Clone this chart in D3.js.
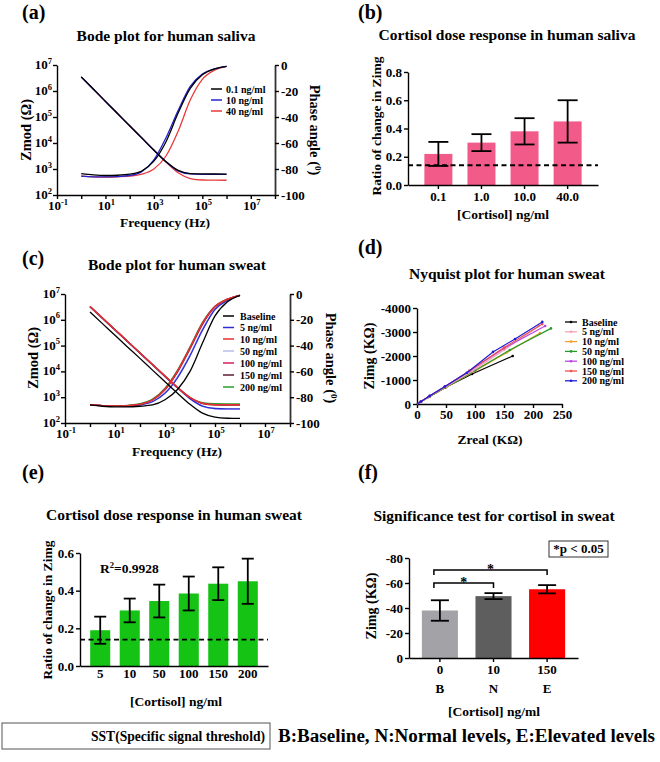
<!DOCTYPE html>
<html><head><meta charset="utf-8">
<script src="https://cdn.jsdelivr.net/npm/d3@7"></script>
<style>body{margin:0;background:#fff}svg{display:block}</style>
</head><body><svg id="c" width="660" height="762"></svg>
<script>
// ---------------- DATA ----------------
const freq = [1, 3.162, 10, 31.62, 100, 316.2, 1000, 3162, 10000, 31620, 100000, 316200, 1000000];
const bodeExpTicks = [-1, 0, 1, 2, 3, 4, 5, 6, 7, 8];
const bodeExpLabels = [-1, 1, 3, 5, 7];
const zmodExpTicks = [2, 3, 4, 5, 6, 7];
const phaseTicks = [0, -20, -40, -60, -80, -100];

// (a) saliva
const salivaSeries = ["0.1 ng/ml", "10 ng/ml", "40 ng/ml"];
const salivaZmod01 = [3.5e6, 1.19e6, 4.0e5, 1.36e5, 4.6e4, 1.57e4, 5.35e3, 1.92e3, 880, 668, 645, 641, 640];
const salivaZmod10 = [3.45e6, 1.17e6, 3.95e5, 1.34e5, 4.55e4, 1.55e4, 5.25e3, 1.88e3, 850, 645, 624, 621, 620];
const salivaZmod40 = [3.5e6, 1.19e6, 4.0e5, 1.36e5, 4.6e4, 1.57e4, 5.3e3, 1.84e3, 715, 430, 378, 371, 370];
const salivaPhase01 = [-83.5, -84.5, -85, -84.8, -84, -81.5, -74, -59, -37, -18, -7.5, -3, -1];
const salivaPhase10 = [-85.5, -86, -86, -85.8, -85, -82, -73, -56, -35, -16.5, -7, -3, -1];
const salivaPhase40 = [-85.5, -86, -86.2, -86, -85.5, -84, -80, -70, -51, -27, -11, -4, -1];

// (b) saliva dose response
const salivaDoses = ["0.1", "1.0", "10.0", "40.0"];
const salivaRatio = [0.22, 0.30, 0.38, 0.45];
const salivaRatioErr = [0.085, 0.06, 0.093, 0.15];
const sstThreshold = 0.14;

// (c) sweat bode
const sweatSeries = ["Baseline", "5 ng/ml", "10 ng/ml", "50 ng/ml", "100 ng/ml", "150 ng/ml", "200 ng/ml"];
const sweatZmodBase = [2.0e6, 7.1e5, 2.5e5, 8.9e4, 3.2e4, 1.12e4, 4.0e3, 1.43e3, 530, 240, 168, 153, 150];
const sweatZmod5 = [3.2e6, 1.14e6, 4.0e5, 1.43e5, 5.1e4, 1.8e4, 6.4e3, 2.3e3, 880, 450, 365, 352, 350];
const sweatZmod10 = [3.3e6, 1.17e6, 4.15e5, 1.48e5, 5.2e4, 1.86e4, 6.6e3, 2.4e3, 970, 580, 510, 501, 500];
const sweatZmod50 = [3.1e6, 1.1e6, 3.9e5, 1.39e5, 4.9e4, 1.75e4, 6.2e3, 2.25e3, 860, 445, 357, 343, 340];
const sweatZmod100 = [3.3e6, 1.17e6, 4.15e5, 1.48e5, 5.2e4, 1.86e4, 6.6e3, 2.4e3, 975, 588, 520, 511, 510];
const sweatZmod150 = [3.25e6, 1.15e6, 4.1e5, 1.46e5, 5.15e4, 1.83e4, 6.5e3, 2.35e3, 950, 565, 500, 491, 490];
const sweatZmod200 = [3.3e6, 1.17e6, 4.15e5, 1.48e5, 5.2e4, 1.86e4, 6.6e3, 2.4e3, 995, 620, 560, 551, 550];
const sweatPhaseBase = [-86, -87, -87.5, -87.5, -87, -86, -82, -74, -60, -38, -17, -6, -1];
const sweatPhase5 = [-86, -86.5, -87, -87, -86, -83.5, -77, -65, -48, -28, -12, -5, -1];
const sweatPhase10 = [-86, -86.5, -87, -86.5, -85.5, -82, -74, -60, -42, -23, -10, -4, -1];
const sweatPhase50 = [-86, -86.5, -87, -87, -86, -83.5, -76.5, -64, -47, -27, -11.5, -4.5, -1];
const sweatPhase100 = [-86, -86.5, -87, -86.5, -85.5, -82, -73.5, -59.5, -41.5, -22.5, -9.5, -4, -1];
const sweatPhase150 = [-86, -86.5, -87, -86.6, -85.6, -82.2, -74.2, -60.5, -42.5, -23.5, -10, -4, -1];
const sweatPhase200 = [-86, -86.5, -86.8, -86.3, -85, -81.5, -73, -59, -41, -22, -9.5, -4, -1];

// (d) nyquist [Zreal KΩ, -Zimg KΩ]
const nyqBase = [[0,0],[6,90],[20,290],[48,680],[95,1250],[165,2000]];
const nyq5 = [[0,0],[7,100],[22,330],[50,720],[95,1370],[150,2250],[210,3240]];
const nyq10 = [[0,0],[7,95],[22,310],[50,700],[100,1380],[155,2150],[212,2960]];
const nyq50 = [[0,0],[7,95],[22,310],[50,700],[100,1400],[160,2250],[231,3150]];
const nyq100 = [[0,0],[7,100],[22,330],[48,720],[90,1370],[150,2320],[221,3250]];
const nyq150 = [[0,0],[7,100],[22,330],[48,720],[90,1380],[150,2350],[216,3330]];
const nyq200 = [[0,0],[7,105],[22,340],[48,730],[86,1300],[131,2170],[169,2710],[216,3420]];
const nyqXTicks = [0, 50, 100, 150, 200, 250];
const nyqYTicks = [0, 1000, 2000, 3000, 4000];

// (e) sweat dose response
const sweatDoses = ["5", "10", "50", "100", "150", "200"];
const sweatRatio = [0.19, 0.295, 0.345, 0.385, 0.437, 0.45];
const sweatRatioErr = [0.072, 0.063, 0.087, 0.09, 0.087, 0.12];

// (f) significance
const sigDoses = ["0", "10", "150"];
const sigGroups = ["B", "N", "E"];
const sigZimg = [38, 49.5, 55];
const sigErr = [8.2, 2.4, 3.3];

// ---------------- STYLE ----------------
const FONT = "'Liberation Serif','Times New Roman',serif";
const salivaColors = ["#000000", "#2424d0", "#e83a3a"];
const sweatColors = ["#000000", "#2d2dd6", "#e83030", "#b8bce8", "#d81e5b", "#5c1f2e", "#2aa02a"];
const nyqColors = ["#000000", "#f5a3b6", "#f0a030", "#2a9a2a", "#b845e0", "#f05050", "#1d1dd6"];
const TICK_FS = 13, TITLE_FS = 15.5, AX_FS = 13.5, LAB_FS = 20, LEG_FS = 10;

const svg = d3.select("#c");
svg.append("rect").attr("width", 660).attr("height", 762).attr("fill", "#fff");

function T(x, y, s, size, anchor, rot) {
  const t = svg.append("text").attr("font-family", FONT).attr("font-weight", "bold")
    .attr("font-size", size).attr("text-anchor", anchor || "middle").attr("fill", "#000");
  if (rot) t.attr("transform", `translate(${x},${y}) rotate(${rot})`);
  else t.attr("x", x).attr("y", y);
  t.text(s);
  return t;
}
function styleAx(g) {
  g.select(".domain").attr("stroke", "#000").attr("stroke-width", 1.4);
  g.selectAll(".tick line").attr("stroke", "#000").attr("stroke-width", 1.4);
  g.selectAll(".tick text").attr("font-family", FONT).attr("font-weight", "bold")
    .attr("font-size", TICK_FS).attr("fill", "#000");
}
function sup(x, y, exp, anchor) {
  const t = svg.append("text").attr("x", x).attr("y", y).attr("font-family", FONT)
    .attr("font-weight", "bold").attr("font-size", 13).attr("text-anchor", anchor).attr("fill", "#000");
  t.append("tspan").text("10");
  t.append("tspan").attr("dy", -5.5).attr("font-size", 8.5).text(exp);
}
const negFmt = d => d === 0 ? "0" : "-" + Math.abs(d);

// ---------- Bode panel ----------
function bode(cfg) {
  const x = d3.scaleLog().domain([0.1, 1e8]).range([cfg.x0, cfg.x1]);
  const y = d3.scaleLog().domain([1e2, 1e7]).range([cfg.y1, cfg.y0]);
  const p = d3.scaleLinear().domain([-100, 0]).range([cfg.y1, cfg.y0]);
  const gx = svg.append("g").attr("transform", `translate(0,${cfg.y1})`)
    .call(d3.axisBottom(x).tickValues(bodeExpTicks.map(e => Math.pow(10, e))).tickFormat("").tickSize(4).tickSizeOuter(0));
  styleAx(gx);
  bodeExpLabels.forEach(e => sup(x(Math.pow(10, e)) + 1, cfg.y1 + 15, String(e), "middle"));
  const gy = svg.append("g").attr("transform", `translate(${cfg.x0},0)`)
    .call(d3.axisLeft(y).tickValues(zmodExpTicks.map(e => Math.pow(10, e))).tickFormat("").tickSize(4).tickSizeOuter(0));
  styleAx(gy);
  zmodExpTicks.forEach(e => sup(cfg.x0 - 5, y(Math.pow(10, e)) + 4, String(e), "end"));
  const gp = svg.append("g").attr("transform", `translate(${cfg.x1},0)`)
    .call(d3.axisRight(p).tickValues(phaseTicks).tickFormat(negFmt).tickSize(4).tickPadding(2).tickSizeOuter(0));
  styleAx(gp);
  gp.select(".domain").attr("stroke", "#333").attr("stroke-width", 1.8);

  const lz = d3.line().x((d, i) => x(freq[i])).y(d => y(d)).curve(d3.curveMonotoneX);
  const lp = d3.line().x((d, i) => x(freq[i])).y(d => p(d)).curve(d3.curveMonotoneX);
  cfg.order.forEach(i => {
    svg.append("path").attr("d", lz(cfg.zmod[i])).attr("fill", "none").attr("stroke", cfg.colors[i]).attr("stroke-width", 1.3);
    svg.append("path").attr("d", lp(cfg.phase[i])).attr("fill", "none").attr("stroke", cfg.colors[i]).attr("stroke-width", 1.3);
  });
  cfg.names.forEach((n, i) => {
    const yy = cfg.legY[i];
    svg.append("line").attr("x1", cfg.legX).attr("x2", cfg.legX + 11).attr("y1", yy).attr("y2", yy)
      .attr("stroke", cfg.colors[i]).attr("stroke-width", 1.5);
    T(cfg.legX + cfg.legGap, yy + 3.5, n, LEG_FS, "start");
  });
}
function phaseLabel(x, y) {
  const t = T(x, y, "", 14.5, "middle", 90);
  t.append("tspan").text("Phase angle (");
  t.append("tspan").attr("dy", -5).attr("font-size", 9).text("0");
  t.append("tspan").attr("dy", 5).text(")");
}

// (a)
T(22, 19, "(a)", LAB_FS, "start");
T(166, 41, "Bode plot for human saliva", TITLE_FS);
bode({
  x0: 57, x1: 275, y0: 65, y1: 195,
  zmod: [salivaZmod01, salivaZmod10, salivaZmod40],
  phase: [salivaPhase01, salivaPhase10, salivaPhase40],
  colors: salivaColors, names: salivaSeries, order: [2, 1, 0],
  legX: 211, legGap: 15, legY: [89, 100, 111]
});
T(31, 130, "Zmod (Ω)", 14.5, "middle", -90);
phaseLabel(310, 130);
T(165, 227, "Frequency (Hz)", AX_FS);

// (c)
T(22, 265, "(c)", LAB_FS, "start");
T(177, 270, "Bode plot for human sweat", TITLE_FS);
bode({
  x0: 65, x1: 290, y0: 294, y1: 423,
  zmod: [sweatZmodBase, sweatZmod5, sweatZmod10, sweatZmod50, sweatZmod100, sweatZmod150, sweatZmod200],
  phase: [sweatPhaseBase, sweatPhase5, sweatPhase10, sweatPhase50, sweatPhase100, sweatPhase150, sweatPhase200],
  colors: sweatColors, names: sweatSeries, order: [3, 1, 6, 5, 4, 2, 0],
  legX: 223, legGap: 17, legY: [316, 327.5, 339, 351, 363, 375, 387]
});
T(38, 358, "Zmod (Ω)", 14.5, "middle", -90);
phaseLabel(326, 358);
T(177, 456, "Frequency (Hz)", AX_FS);

// ---------- bar panel ----------
function barPanel(cfg) {
  const x = d3.scaleBand().domain(cfg.cats).range([cfg.x0, cfg.x1]).paddingInner(cfg.pi).paddingOuter(cfg.po);
  const y = d3.scaleLinear().domain(cfg.ydom).range([cfg.y1, cfg.y0]);
  cfg.vals.forEach((v, i) => {
    svg.append("rect").attr("x", x(cfg.cats[i])).attr("y", y(v)).attr("width", x.bandwidth())
      .attr("height", y(0) - y(v)).attr("fill", cfg.colors[i % cfg.colors.length]);
  });
  const gx = svg.append("g").attr("transform", `translate(0,${cfg.y1})`)
    .call(d3.axisBottom(x).tickSize(cfg.xtick).tickSizeOuter(0).tickPadding(3));
  styleAx(gx);
  const gy = svg.append("g").attr("transform", `translate(${cfg.x0},0)`)
    .call(d3.axisLeft(y).tickValues(cfg.yticks).tickFormat(cfg.yfmt).tickSize(4).tickSizeOuter(0).tickPadding(2));
  styleAx(gy);
  if (cfg.thr !== undefined) {
    svg.append("line").attr("x1", cfg.x0).attr("x2", cfg.x1).attr("y1", y(cfg.thr)).attr("y2", y(cfg.thr))
      .attr("stroke", "#000").attr("stroke-width", 1.8).attr("stroke-dasharray", "5,3.5");
  }
  cfg.vals.forEach((v, i) => {
    const cx = x(cfg.cats[i]) + x.bandwidth() / 2;
    const e = cfg.errs[i];
    const g = svg.append("g").attr("stroke", "#000").attr("stroke-width", 1.8);
    g.append("line").attr("x1", cx).attr("x2", cx).attr("y1", y(v + e)).attr("y2", y(v - e));
    g.append("line").attr("x1", cx - cfg.cap / 2).attr("x2", cx + cfg.cap / 2).attr("y1", y(v + e)).attr("y2", y(v + e));
    g.append("line").attr("x1", cx - cfg.cap / 2).attr("x2", cx + cfg.cap / 2).attr("y1", y(v - e)).attr("y2", y(v - e));
  });
  return { x, y };
}

// (b)
T(358, 19, "(b)", LAB_FS, "start");
T(507, 40, "Cortisol dose response in human saliva", TITLE_FS);
barPanel({
  cats: salivaDoses, vals: salivaRatio, errs: salivaRatioErr, colors: ["#f25a8a"],
  x0: 408, x1: 598, y0: 72, y1: 185, pi: 0.35, po: 0.38, ydom: [0, 0.8],
  yticks: [0, 0.2, 0.4, 0.6, 0.8], yfmt: d3.format(".1f"), thr: sstThreshold, cap: 20, xtick: 4
});
T(381, 126, "Ratio of change in Zimg", AX_FS, "middle", -90);
T(503, 219, "[Cortisol] ng/ml", AX_FS);

// (d) Nyquist
T(358, 254, "(d)", LAB_FS, "start");
T(507, 279, "Nyquist plot for human sweat", TITLE_FS);
{
  const x = d3.scaleLinear().domain([0, 250]).range([417, 562]);
  const y = d3.scaleLinear().domain([0, 4000]).range([404, 308]);
  const gx = svg.append("g").attr("transform", "translate(0,404)")
    .call(d3.axisBottom(x).tickValues(nyqXTicks).tickSize(4).tickSizeOuter(0).tickPadding(2));
  styleAx(gx);
  const gy = svg.append("g").attr("transform", "translate(417,0)")
    .call(d3.axisLeft(y).tickValues(nyqYTicks).tickFormat(negFmt).tickSize(4).tickSizeOuter(0).tickPadding(2));
  styleAx(gy);
  const sets = [nyqBase, nyq5, nyq10, nyq50, nyq100, nyq150, nyq200];
  const line = d3.line().x(d => x(d[0])).y(d => y(d[1]));
  [0, 2, 3, 1, 4, 5, 6].forEach(i => {
    svg.append("path").attr("d", line(sets[i])).attr("fill", "none").attr("stroke", nyqColors[i]).attr("stroke-width", 1.2);
    sets[i].slice(1).forEach(d => {
      svg.append("circle").attr("cx", x(d[0])).attr("cy", y(d[1])).attr("r", 1.3).attr("fill", nyqColors[i]);
    });
  });
  sweatSeries.forEach((n, i) => {
    const yy = 322 + i * 9.8;
    svg.append("line").attr("x1", 565).attr("x2", 577).attr("y1", yy).attr("y2", yy)
      .attr("stroke", nyqColors[i]).attr("stroke-width", 1.3);
    svg.append("circle").attr("cx", 571).attr("cy", yy).attr("r", 1.3).attr("fill", nyqColors[i]);
    T(582, yy + 3.5, n, LEG_FS, "start");
  });
}
T(374, 356, "Zimg (KΩ)", 14, "middle", -90);
T(490, 444, "Zreal (KΩ)", AX_FS);

// (e)
T(22, 479, "(e)", LAB_FS, "start");
T(174, 520, "Cortisol dose response in human sweat", TITLE_FS);
barPanel({
  cats: sweatDoses, vals: sweatRatio, errs: sweatRatioErr, colors: ["#14c314"],
  x0: 80, x1: 268, y0: 553, y1: 666, pi: 0.32, po: 0.345, ydom: [0, 0.6],
  yticks: [0, 0.2, 0.4, 0.6], yfmt: d3.format(".1f"), thr: sstThreshold, cap: 12, xtick: 0
});
T(52, 610, "Ratio of change in Zimg", AX_FS, "middle", -90);
{
  const r = T(100, 573, "R", 13.5, "start");
  r.append("tspan").attr("dy", -5).attr("font-size", 8.5).text("2");
  r.append("tspan").attr("dy", 5).text("=0.9928");
}
T(176, 706, "[Cortisol] ng/ml", AX_FS);

// (f)
T(358, 479, "(f)", LAB_FS, "start");
T(494, 521, "Significance test for cortisol in sweat", TITLE_FS);
{
  const s = barPanel({
    cats: sigDoses, vals: sigZimg, errs: sigErr, colors: ["#a2a2a7", "#5e5e5e", "#ff0000"],
    x0: 409, x1: 578, y0: 558, y1: 658, pi: 0.327, po: 0.24, ydom: [0, 80],
    yticks: [0, 20, 40, 60, 80], yfmt: negFmt, cap: 18, xtick: 4
  });
  const cx = i => s.x(sigDoses[i]) + s.x.bandwidth() / 2;
  sigGroups.forEach((gname, i) => T(cx(i), 693, gname, TICK_FS));
  const br = (a, b, yv, h) => {
    svg.append("path").attr("d", `M${cx(a) - 6},${yv + h}V${yv}H${cx(b)}V${yv + h}`)
      .attr("fill", "none").attr("stroke", "#000").attr("stroke-width", 1.5);
    T((cx(a) - 6 + cx(b)) / 2, yv + 4, "*", 14);
  };
  br(0, 1, 583, 5);
  br(0, 2, 570, 5);
  svg.append("rect").attr("x", 549).attr("y", 541).attr("width", 59).attr("height", 16)
    .attr("fill", "none").attr("stroke", "#333").attr("stroke-width", 1);
  T(578.5, 553, "*p < 0.05", 13);
}
T(376, 606, "Zimg (KΩ)", 14, "middle", -90);
T(494, 716, "[Cortisol] ng/ml", AX_FS);

// bottom legend
svg.append("rect").attr("x", 2).attr("y", 723).attr("width", 268).attr("height", 26)
  .attr("fill", "none").attr("stroke", "#555").attr("stroke-width", 1);
T(91, 741, "SST(Specific signal threshold)", 15, "start").attr("textLength", 174).attr("lengthAdjust", "spacingAndGlyphs");
T(278, 742, "B:Baseline, N:Normal levels, E:Elevated levels", 18, "start").attr("textLength", 377).attr("lengthAdjust", "spacingAndGlyphs");
</script>
</body></html>
